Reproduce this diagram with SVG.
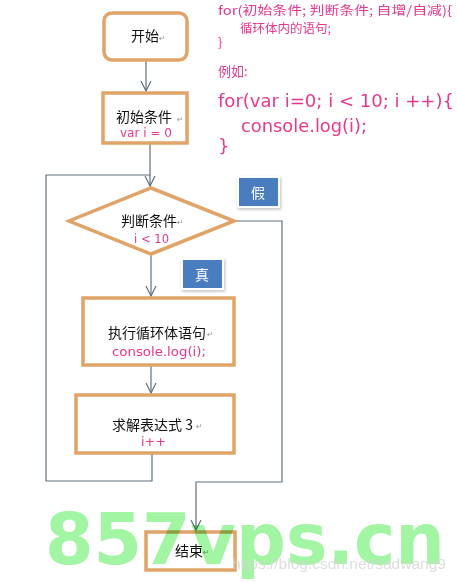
<svg xmlns="http://www.w3.org/2000/svg" width="457" height="583" viewBox="0 0 457 583">
<defs>
<style>
.box{fill:#fff;stroke:#e0a468;stroke-width:3.5}
.cn{font-family:"Noto Sans CJK SC","Noto Sans",sans-serif;font-size:14px;fill:#111}
.pk{font-family:"DejaVu Sans","Noto Sans",sans-serif;fill:#e5388e;stroke:#fff;stroke-width:0.6;paint-order:stroke}
.pc{font-family:"Noto Sans CJK SC","DejaVu Sans",sans-serif;fill:#e5388e}
.rt{font-family:"DejaVu Sans",sans-serif;font-size:8px;fill:#999}
.ln{fill:none;stroke:#5f7080;stroke-width:1.2}
.bl{fill:#4a7dbd;stroke:#fff;stroke-width:2}
.bt{font-family:"Noto Sans CJK SC",sans-serif;font-size:14px;fill:#fff}
</style>
<marker id="ar" viewBox="0 0 12 12" refX="11" refY="6" markerWidth="12" markerHeight="12" markerUnits="userSpaceOnUse" orient="auto">
<path d="M1,1 L11,6 L1,11" fill="none" stroke="#5f7080" stroke-width="1.2"/>
</marker>
<filter id="sh" x="-30%" y="-30%" width="160%" height="160%">
<feDropShadow dx="1" dy="1.5" stdDeviation="1.5" flood-color="#000" flood-opacity="0.25"/>
</filter>
</defs>
<rect width="457" height="583" fill="#fff"/>

<g id="code">
<text class="pc" x="218" y="15" font-size="12.5" textLength="234" lengthAdjust="spacingAndGlyphs">for(初始条件; 判断条件; 自增/自减){</text>
<text class="pc" x="240" y="33" font-size="12.5">循环体内的语句;</text>
<text class="pc" x="218" y="47" font-size="13">}</text>
<text class="pc" x="218" y="76" font-size="13">例如:</text>
<text class="pk" x="218" y="107" font-size="18" textLength="236" lengthAdjust="spacingAndGlyphs">for(var i=0; i &lt; 10; i ++){</text>
<text class="pk" x="241" y="132" font-size="17" textLength="126" lengthAdjust="spacingAndGlyphs">console.log(i);</text>
<text class="pk" x="218" y="152" font-size="18">}</text>
</g>

<g id="connectors">
<line class="ln" x1="146" y1="61" x2="146" y2="91" marker-end="url(#ar)"/>
<line class="ln" x1="150" y1="144" x2="150" y2="186" marker-end="url(#ar)"/>
<polyline class="ln" points="152,453 152,481 46,481 46,175 150,175"/>
<line class="ln" x1="151" y1="254" x2="151" y2="296" marker-end="url(#ar)"/>
<line class="ln" x1="151" y1="365" x2="151" y2="393" marker-end="url(#ar)"/>
<polyline class="ln" points="234,221 282,221 282,482 196,482 196,530" marker-end="url(#ar)"/>
</g>

<g id="start">
<rect class="box" x="104" y="13" width="83" height="47" rx="8"/>
<text class="cn" x="131" y="41">开始</text>
<text class="rt" x="159" y="41">↵</text>
</g>

<g id="init">
<rect class="box" x="103" y="93" width="84" height="50"/>
<text class="cn" x="116" y="122">初始条件</text>
<text class="rt" x="177" y="122">↵</text>
<text class="pk" x="120" y="137" font-size="12" textLength="52" lengthAdjust="spacingAndGlyphs">var i = 0</text>
</g>

<g id="cond">
<polygon points="151,188 234,221 151,254 69,221" fill="#fff" stroke="#e0a468" stroke-width="3.5" stroke-linejoin="miter"/>
<text class="cn" x="121" y="226">判断条件</text>
<text class="rt" x="177" y="225">↵</text>
<text class="pk" x="134" y="243" font-size="13" textLength="35" lengthAdjust="spacingAndGlyphs">i &lt; 10</text>
</g>

<g id="false">
<rect class="bl" x="238" y="177" width="41" height="30" filter="url(#sh)"/>
<text class="bt" x="251" y="198">假</text>
</g>

<g id="true">
<rect class="bl" x="182" y="259" width="41" height="30" filter="url(#sh)"/>
<text class="bt" x="195" y="280">真</text>
</g>

<g id="body">
<rect class="box" x="83" y="298" width="151" height="67"/>
<text class="cn" x="108" y="338" textLength="98" lengthAdjust="spacingAndGlyphs">执行循环体语句</text>
<text class="rt" x="207" y="337">↵</text>
<text class="pk" x="112" y="356" font-size="13" textLength="94" lengthAdjust="spacingAndGlyphs">console.log(i);</text>
</g>

<g id="update">
<rect class="box" x="76" y="395" width="158" height="58"/>
<text class="cn" x="112" y="430">求解表达式 3</text>
<text class="rt" x="196" y="429">↵</text>
<text class="pk" x="141" y="446" font-size="13" textLength="25" lengthAdjust="spacingAndGlyphs">i++</text>
</g>

<g id="end">
<rect class="box" x="146" y="532" width="89" height="38"/>
<text class="cn" x="175" y="556">结束</text>
<text class="rt" x="203" y="555">↵</text>
</g>

<g id="watermark">
<text x="45" y="564" font-family="DejaVu Sans" font-weight="bold" font-size="72" fill="#a2f5a2" textLength="400" lengthAdjust="spacingAndGlyphs" style="mix-blend-mode:multiply">857vps.cn</text>
<text x="232" y="569" font-family="Liberation Sans" font-size="15" fill="#d4d4d4" fill-opacity="0.8" textLength="214" lengthAdjust="spacingAndGlyphs">https://blog.csdn.net/sadwang9</text>
</g>
</svg>
